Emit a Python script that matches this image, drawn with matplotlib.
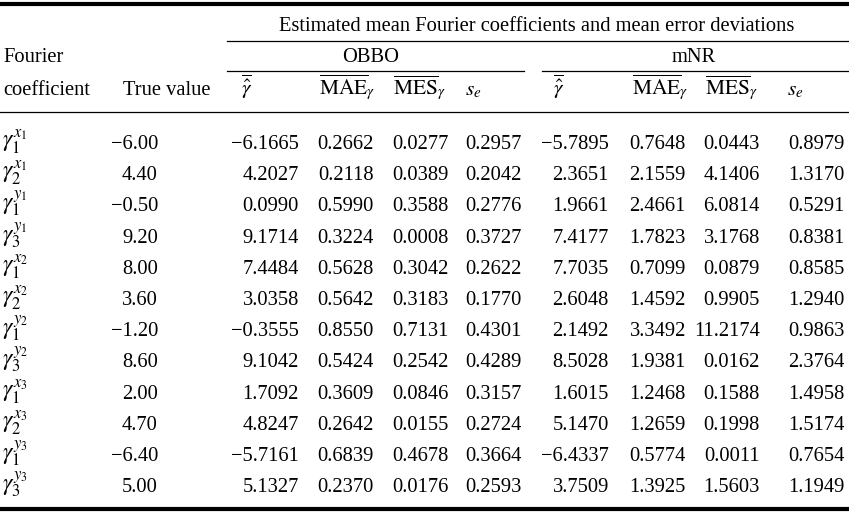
import matplotlib.pyplot as plt

plt.rcParams['font.family'] = ['Liberation Serif', 'DejaVu Serif']
plt.rcParams['mathtext.fontset'] = 'stix'

# table data
coef_labels = [r'$\gamma_1^{x_1}$', r'$\gamma_2^{x_1}$', r'$\gamma_1^{y_1}$', r'$\gamma_3^{y_1}$',
               r'$\gamma_1^{x_2}$', r'$\gamma_2^{x_2}$', r'$\gamma_1^{y_2}$', r'$\gamma_3^{y_2}$',
               r'$\gamma_1^{x_3}$', r'$\gamma_2^{x_3}$', r'$\gamma_1^{y_3}$', r'$\gamma_3^{y_3}$']
true_values = [-6.00, 4.40, -0.50, 9.20, 8.00, 3.60, -1.20, 8.60, 2.00, 4.70, -6.40, 5.00]

obbo_gamma = [-6.1665, 4.2027, 0.0990, 9.1714, 7.4484, 3.0358, -0.3555, 9.1042, 1.7092, 4.8247, -5.7161, 5.1327]
obbo_mae = [0.2662, 0.2118, 0.5990, 0.3224, 0.5628, 0.5642, 0.8550, 0.5424, 0.3609, 0.2642, 0.6839, 0.2370]
obbo_mes = [0.0277, 0.0389, 0.3588, 0.0008, 0.3042, 0.3183, 0.7131, 0.2542, 0.0846, 0.0155, 0.4678, 0.0176]
obbo_se = [0.2957, 0.2042, 0.2776, 0.3727, 0.2622, 0.1770, 0.4301, 0.4289, 0.3157, 0.2724, 0.3664, 0.2593]

mnr_gamma = [-5.7895, 2.3651, 1.9661, 7.4177, 7.7035, 2.6048, 2.1492, 8.5028, 1.6015, 5.1470, -6.4337, 3.7509]
mnr_mae = [0.7648, 2.1559, 2.4661, 1.7823, 0.7099, 1.4592, 3.3492, 1.9381, 1.2468, 1.2659, 0.5774, 1.3925]
mnr_mes = [0.0443, 4.1406, 6.0814, 3.1768, 0.0879, 0.9905, 11.2174, 0.0162, 0.1588, 0.1998, 0.0011, 1.5603]
mnr_se = [0.8979, 1.3170, 0.5291, 0.8381, 0.8585, 1.2940, 0.9863, 2.3764, 1.4958, 1.5174, 0.7654, 1.1949]

col_headers = [r'$\overline{\hat{\gamma}}$', r'$\overline{\mathrm{MAE}}_{\gamma}$',
               r'$\overline{\mathrm{MES}}_{\gamma}$', r'$s_e$']


def fmt(v, nd):
    s = f"{abs(v):.{nd}f}"
    return ("\u2212" + s) if v < 0 else s


W, H = 849, 513
fig = plt.figure(figsize=(W / 100, H / 100), dpi=100)
ax = fig.add_axes([0, 0, 1, 1])
ax.set_xlim(0, W)
ax.set_ylim(H, 0)
ax.axis('off')

fs = 14.8
lw_thin = 0.9
lw_thick = 3.0

# rules
ax.plot([0, W], [4, 4], color='black', lw=lw_thick, solid_capstyle='butt')
ax.plot([227, W], [41, 41], color='black', lw=lw_thin)
ax.plot([227, 524], [71, 71], color='black', lw=lw_thin)
ax.plot([542, W], [71, 71], color='black', lw=lw_thin)
ax.plot([0, W], [112, 112], color='black', lw=lw_thin)
ax.plot([0, W], [509, 509], color='black', lw=lw_thick, solid_capstyle='butt')

# header text
ax.text(537, 31, "Estimated mean Fourier coefficients and mean error deviations",
        ha='center', va='baseline', fontsize=fs)
ax.text(3, 62, "Fourier", ha='left', va='baseline', fontsize=fs)
ax.text(3, 95, "coefficient", ha='left', va='baseline', fontsize=fs)
ax.text(167, 95, "True value", ha='center', va='baseline', fontsize=fs)
ax.text(371, 62, "OBBO", ha='center', va='baseline', fontsize=fs)
ax.text(694, 62, "mNR", ha='center', va='baseline', fontsize=fs)

hdr_x_obbo = [241, 319, 393, 465]
hdr_x_mnr = [553, 632, 705, 787]
for hx in (hdr_x_obbo, hdr_x_mnr):
    for x, h in zip(hx, col_headers):
        ax.text(x, 95, h, ha='left', va='baseline', fontsize=fs + 0.6)

# body
row0, dy = 149, 31.2
cols = [
    (158, true_values, 2),
    (299, obbo_gamma, 4), (374, obbo_mae, 4), (449, obbo_mes, 4), (522, obbo_se, 4),
    (609, mnr_gamma, 4), (686, mnr_mae, 4), (760, mnr_mes, 4), (845, mnr_se, 4),
]
for i, lab in enumerate(coef_labels):
    y = row0 + i * dy
    ax.text(2, y - 2, lab, ha='left', va='baseline', fontsize=17)
    for x, vals, nd in cols:
        ax.text(x, y, fmt(vals[i], nd), ha='right', va='baseline', fontsize=fs)

fig.savefig("out.png", dpi=100)
